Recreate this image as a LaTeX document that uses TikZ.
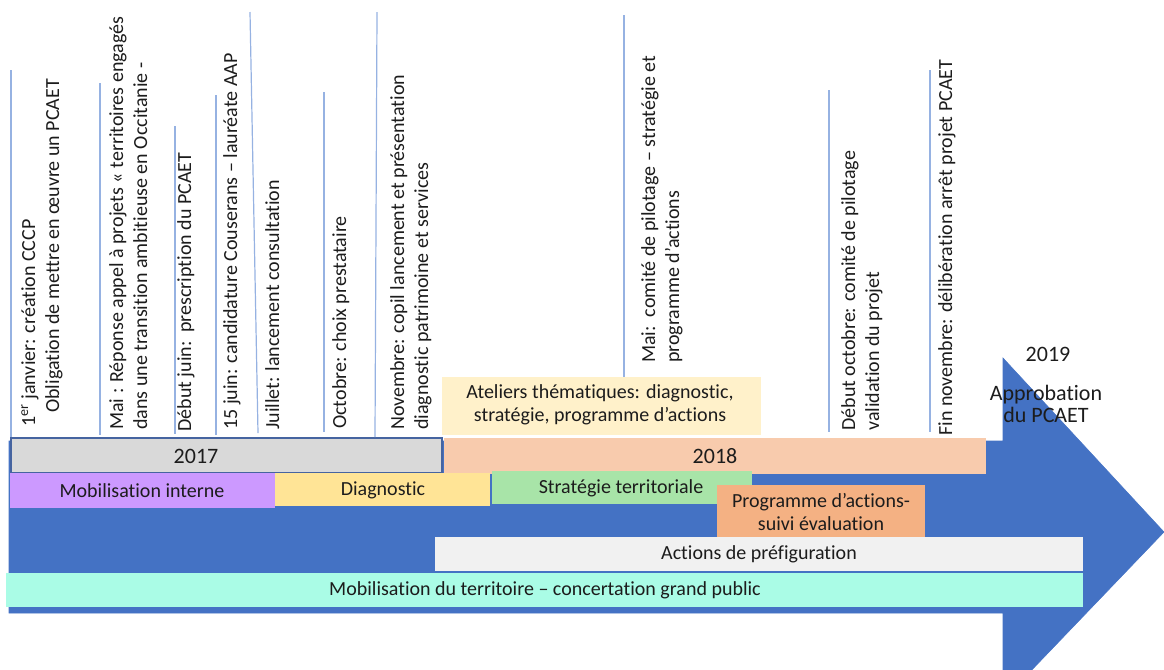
\documentclass[tikz,border=0pt]{standalone}
\usepackage{fontspec}
\setmainfont{Carlito}[Ligatures=NoCommon]
\usepackage{tikz}
\definecolor{arrowblue}{RGB}{68,114,196}
\definecolor{tickblue}{RGB}{150,178,226}
\definecolor{txtcol}{RGB}{28,28,28}
\definecolor{grey17}{RGB}{217,217,217}
\definecolor{edge17}{RGB}{70,100,160}
\definecolor{peach18}{RGB}{248,203,173}
\definecolor{atelcol}{RGB}{255,241,202}
\definecolor{lilac}{RGB}{204,153,255}
\definecolor{sand}{RGB}{255,228,150}
\definecolor{mintgreen}{RGB}{168,228,168}
\definecolor{apricot}{RGB}{244,177,131}
\definecolor{palegrey}{RGB}{241,241,241}
\definecolor{aqua}{RGB}{170,252,230}

\begin{document}
\begin{tikzpicture}[x=0.75pt,y=0.75pt,yscale=-1,xscale=1,
  evt/.style={anchor=north west,inner sep=0pt,rotate=90,align=left,text=txtcol,font=\fontsize{15}{18}\selectfont},
  bar/.style={inner sep=0pt,align=center,text=txtcol,font=\fontsize{15}{17.5}\selectfont},
  yr/.style={inner sep=0pt,align=center,text=txtcol,font=\fontsize{16.5}{17}\selectfont},
  vline/.style={draw=tickblue,line width=0.9}]
    \useasboundingbox (0,0) rectangle (1164,669);
    \clip (0,0) rectangle (1164,669);

    %Shape: Right Arrow
    \draw  [draw=arrowblue,fill=arrowblue] (9,441) -- (1003,441) -- (1003,358) -- (1164,532) -- (1003,700) -- (1003,613) -- (9,613) -- cycle ;

    %Shape: Rectangle (2017)
    \draw  [draw=edge17,fill=grey17,line width=0.8] (11,438) rectangle (442,473) ;
    %Shape: Rectangle (2018)
    \draw  [draw=none,fill=peach18] (444,438) rectangle (986,474) ;
    %Shape: Rectangle (ateliers)
    \draw  [draw=none,fill=atelcol] (442,377) rectangle (761,435) ;
    %Shape: Rectangle (mobilisation interne)
    \draw  [draw=none,fill=lilac] (10,473) rectangle (275,508) ;
    %Shape: Rectangle (diagnostic)
    \draw  [draw=none,fill=sand] (275,473) rectangle (490,506) ;
    %Shape: Rectangle (strategie)
    \draw  [draw=none,fill=mintgreen] (492,471) rectangle (752,504) ;
    %Shape: Rectangle (programme)
    \draw  [draw=none,fill=apricot] (717,485) rectangle (925,537) ;
    %Shape: Rectangle (prefiguration)
    \draw  [draw=none,fill=palegrey] (435,537) rectangle (1083,571) ;
    %Shape: Rectangle (territoire)
    \draw  [draw=none,fill=aqua] (6,573) rectangle (1083,607) ;

    %Straight Lines
    \draw [vline]   (11,70) -- (11,437) ;
    \draw [vline]   (100,83) -- (100,435) ;
    \draw [vline]   (175,126) -- (175,434) ;
    \draw [vline]   (216,95) -- (216,435) ;
    \draw [vline]   (250,12) -- (258,433) ;
    \draw [vline]   (324,92) -- (324,432) ;
    \draw [vline]   (377,12) -- (375,437) ;
    \draw [vline]   (624,15) -- (624,377) ;
    \draw [vline]   (829,90) -- (829,432) ;
    \draw [vline]   (930,70) -- (930,432) ;

    % Text Node
    \node [evt] (janvier) at (21,427) {1\textsuperscript{er} janvier: création CCCP\\\hspace*{10.5pt}Obligation de mettre en œuvre un PCAET};
    % Text Node
    \node [evt] (maiaap) at (109,430) {Mai : Réponse appel à projets « territoires engagés\\dans une transition ambitieuse en Occitanie -};
    % Text Node
    \node [evt] (debjuin) at (177,432) {Début juin:\ \ prescription du PCAET};
    % Text Node
    \node [evt] (quinzejuin) at (223,430) {15 juin: candidature Couserans – lauréate AAP};
    % Text Node
    \node [evt] (juillet) at (265,430) {Juillet: lancement consultation};
    % Text Node
    \node [evt] (octobre) at (332,429) {Octobre: choix prestataire};
    % Text Node
    \node [evt] (novembre) at (390,430) {Novembre: copil lancement et présentation\\diagnostic patrimoine et services};
    % Text Node
    \node [evt] (maicopil) at (641,363) {Mai:\ \ comité de pilotage – stratégie et\\programme d'actions};
    % Text Node
    \node [evt] (debocto) at (841,431) {Début octobre: comité de pilotage\\validation du projet};
    % Text Node
    \node [evt] (finnov) at (938,436) {Fin novembre: délibération arrêt projet PCAET};

    % Text Node
    \node [yr] (an17) at (196,456) {2017};
    % Text Node
    \node [yr] (an18) at (715,456) {2018};
    % Text Node
    \node [yr] (an19) at (1048,354) {2019};
    % Text Node
    \node [yr] (approb) at (1046,404) {Approbation\\du PCAET};
    % Text Node
    \node [bar] (ateliers) at (600,405) {Ateliers thématiques: diagnostic,\\stratégie, programme d’actions};
    % Text Node
    \node [bar] (mobint) at (142,491) {Mobilisation interne};
    % Text Node
    \node [bar] (diag) at (383,490) {Diagnostic};
    % Text Node
    \node [bar] (strat) at (621,488) {Stratégie territoriale};
    % Text Node
    \node [bar] (progr) at (821,512) {Programme d’actions-\\suivi évaluation};
    % Text Node
    \node [bar] (prefig) at (759,554) {Actions de préfiguration};
    % Text Node
    \node [bar] (territ) at (545,590) {Mobilisation du territoire – concertation grand public};
\end{tikzpicture}
\end{document}
